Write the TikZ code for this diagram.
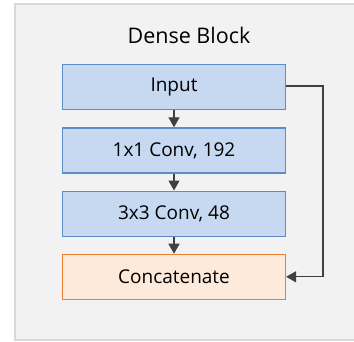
\documentclass[tikz,border=0pt]{standalone}
\usepackage{fontspec}
\setmainfont{Open Sans}
\usetikzlibrary{matrix,arrows.meta}
\definecolor{blockbg}{HTML}{F2F2F2}
\definecolor{blockedge}{HTML}{D9D9D9}
\definecolor{layerbg}{HTML}{C6D9F1}
\definecolor{layeredge}{HTML}{5B8DC9}
\definecolor{catbg}{HTML}{FDEADA}
\definecolor{catedge}{HTML}{ED7D31}
\definecolor{flow}{HTML}{404040}
\tikzset{
  layer/.style={draw=layeredge, fill=layerbg, line width=1.2pt, minimum width=223pt, minimum height=45pt},
  concat/.style={layer, draw=catedge, fill=catbg},
  flowarrow/.style={-{Triangle[length=10pt,width=11pt]}, flow, line width=1.3pt}
}

\begin{document}
\begin{tikzpicture}[x=1pt,y=-1pt,font=\fontsize{19pt}{22pt}\selectfont]
  \useasboundingbox (0,0) rectangle (354,341);
  \draw[fill=blockbg, draw=blockedge, line width=2pt] (15,4) rectangle (363,340);
  \node (title) at (189,35) {\fontsize{21.5pt}{24pt}\selectfont Dense Block};
  \matrix(m) at (174,182) [matrix of nodes,row sep=17pt,nodes={layer}]
  { Input \\
    1x1 Conv, 192 \\
    3x3 Conv, 48 \\
    |[concat]| Concatenate \\};
  \coordinate (skip) at (323,86);
  \path[flowarrow]
    (m-1-1) edge (m-2-1)
    (m-2-1) edge (m-3-1)
    (m-3-1) edge (m-4-1);
  \draw[flowarrow] (m-1-1.east |- skip) -- (skip) |- (m-4-1.east);
\end{tikzpicture}
\end{document}
